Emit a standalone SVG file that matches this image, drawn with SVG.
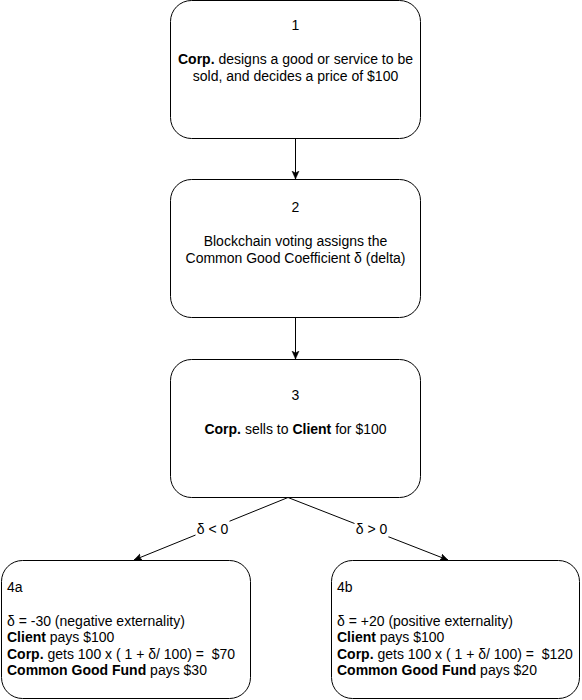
<svg xmlns="http://www.w3.org/2000/svg" width="582" height="700" viewBox="0 0 582 700">
<defs>
<style>
.box{fill:#ffffff;stroke:#000000;stroke-width:1}
.t{font-family:"Liberation Sans",Arial,Helvetica,sans-serif;font-size:14px;fill:#000000}
.c{text-anchor:middle}
.b{font-weight:bold}
.edge{fill:none;stroke:#000000;stroke-width:1}
.lblbg{fill:#ffffff;stroke:none}
</style>
<marker id="arrow" markerUnits="userSpaceOnUse" markerWidth="10" markerHeight="10" refX="8" refY="4" orient="auto">
<path d="M0,0.5 L8,4 L0,7.5 L2,4 Z" fill="#000000" stroke="#000000" stroke-width="0.5"/>
</marker>
</defs>
<rect width="582" height="700" fill="#ffffff"/>
<g id="connectors">
<line class="edge" x1="295.5" y1="138.5" x2="295.5" y2="179" marker-end="url(#arrow)"/>
<line class="edge" x1="295.5" y1="317.5" x2="295.5" y2="359" marker-end="url(#arrow)"/>
<line class="edge" x1="288" y1="497.5" x2="134" y2="560" marker-end="url(#arrow)"/>
<line class="edge" x1="288" y1="497.5" x2="448" y2="560" marker-end="url(#arrow)"/>
<rect class="lblbg" x="195.5" y="520" width="34" height="17"/>
<text class="t c" x="212.5" y="533.5">δ &lt; 0</text>
<rect class="lblbg" x="354.5" y="520" width="34" height="17"/>
<text class="t c" x="371.5" y="533.5">δ &gt; 0</text>
</g>
<g id="node1">
<rect class="box" x="170.5" y="0.5" width="250" height="138" rx="21" ry="21"/>
<text class="t c" x="295.5" y="30">1</text>
<text class="t c" x="295.5" y="64"><tspan class="b">Corp.</tspan> designs a good or service to be</text>
<text class="t c" x="295.5" y="81">sold, and decides a price of $100</text>
</g>
<g id="node2">
<rect class="box" x="170.5" y="179.5" width="250" height="138" rx="21" ry="21"/>
<text class="t c" x="295.5" y="211.5">2</text>
<text class="t c" x="295.5" y="245.5">Blockchain voting assigns the</text>
<text class="t c" x="295.5" y="262.5">Common Good Coefficient δ (delta)</text>
</g>
<g id="node3">
<rect class="box" x="170.5" y="359.5" width="250" height="138" rx="21" ry="21"/>
<text class="t c" x="295.5" y="400">3</text>
<text class="t c" x="295.5" y="434"><tspan class="b">Corp.</tspan> sells to <tspan class="b">Client</tspan> for $100</text>
</g>
<g id="node4a">
<rect class="box" x="1.5" y="560.5" width="249" height="138" rx="21" ry="21"/>
<text class="t" x="7" y="592">4a</text>
<text class="t" x="7" y="625.5">δ = -30 (negative externality)</text>
<text class="t" x="7" y="642"><tspan class="b">Client</tspan> pays $100</text>
<text class="t" x="7" y="658.5" xml:space="preserve"><tspan class="b">Corp.</tspan> gets 100 x ( 1 + δ/ 100) =  $70</text>
<text class="t" x="7" y="675"><tspan class="b">Common Good Fund</tspan> pays $30</text>
</g>
<g id="node4b">
<rect class="box" x="331.5" y="560.5" width="248" height="138" rx="21" ry="21"/>
<text class="t" x="337" y="592">4b</text>
<text class="t" x="337" y="625.5">δ = +20 (positive externality)</text>
<text class="t" x="337" y="642"><tspan class="b">Client</tspan> pays $100</text>
<text class="t" x="337" y="658.5" xml:space="preserve"><tspan class="b">Corp.</tspan> gets 100 x ( 1 + δ/ 100) =  $120</text>
<text class="t" x="337" y="675"><tspan class="b">Common Good Fund</tspan> pays $20</text>
</g>
</svg>
